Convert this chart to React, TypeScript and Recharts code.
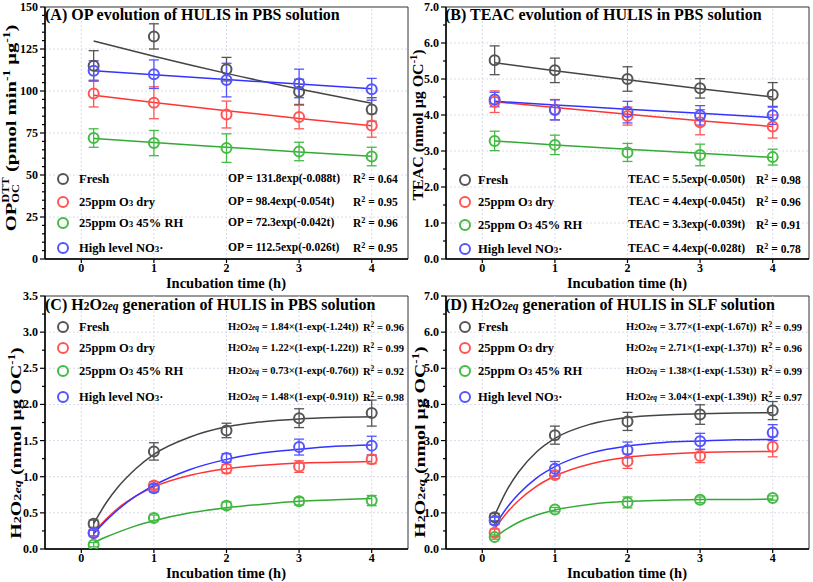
import React from 'react';
import { ComposedChart, Scatter, Line, XAxis, YAxis, ErrorBar, ReferenceLine, ReferenceArea } from 'recharts';

const FONT = '"Liberation Serif", "Times New Roman", serif';

// sampling times (h) and x ticks
const times = [0.17, 1, 2, 3, 4];
const curveTimes = [0.17, 0.35, 0.5, 0.75, 1, 1.5, 2, 2.5, 3, 3.5, 4];
const xTicks = [0, 1, 2, 3, 4];

const seriesNames = ['Fresh', '25ppm O3 dry', '25ppm O3 45% RH', 'High level NO3·'];
const markerColors = ['#555555', '#ff5555', '#44bb44', '#5555ff'];
const lineColors = ['#444444', '#ff3333', '#33aa33', '#3333ff'];

// (A) OP
const opMajor = [0, 25, 50, 75, 100, 125, 150];
const opMinor = [5, 10, 15, 20, 30, 35, 40, 45, 55, 60, 65, 70, 80, 85, 90, 95, 105, 110, 115, 120, 130, 135, 140, 145];
const opFresh = [115, 132.5, 113, 99.5, 89];
const opFreshErr = [9, 7.5, 7, 7.5, 7];
const opDry = [98.5, 93, 86, 84.5, 79.5];
const opDryErr = [8, 9.5, 8, 7, 7];
const opRh = [72, 69, 66, 64, 61];
const opRhErr = [5.5, 7.5, 8.5, 5.5, 5.5];
const opNo3 = [112, 110, 106.5, 104.5, 101];
const opNo3Err = [6, 8.5, 10, 8.5, 6.5];
const opFreshFit = [129.8, 120.7, 110.5, 101.2, 92.7];
const opDryFit = [97.5, 93.2, 88.3, 83.7, 79.3];
const opRhFit = [71.8, 69.3, 66.5, 63.7, 61.1];
const opNo3Fit = [112.0, 109.6, 106.8, 104.1, 101.4];
const opEq = ['131.8exp(-0.088t)', '98.4exp(-0.054t)', '72.3exp(-0.042t)', '112.5exp(-0.026t)'];
const opR2 = ['0.64', '0.95', '0.96', '0.95'];

// (B) TEAC
const teacMajor = [0, 1, 2, 3, 4, 5, 6, 7];
const teacMinor = [0.5, 1.5, 2.5, 3.5, 4.5, 5.5, 6.5];
const teacFresh = [5.52, 5.24, 5.0, 4.74, 4.56];
const teacFreshErr = [0.4, 0.34, 0.34, 0.27, 0.34];
const teacDry = [4.37, 4.15, 3.97, 3.8, 3.68];
const teacDryErr = [0.3, 0.28, 0.25, 0.35, 0.32];
const teacRh = [3.28, 3.17, 2.96, 2.89, 2.83];
const teacRhErr = [0.27, 0.27, 0.25, 0.3, 0.22];
const teacNo3 = [4.43, 4.14, 4.08, 3.99, 3.99];
const teacNo3Err = [0.2, 0.28, 0.3, 0.27, 0.25];
const teacFreshFit = [5.45, 5.23, 4.98, 4.73, 4.5];
const teacDryFit = [4.37, 4.21, 4.02, 3.84, 3.68];
const teacRhFit = [3.28, 3.17, 3.05, 2.94, 2.82];
const teacNo3Fit = [4.38, 4.28, 4.16, 4.05, 3.93];
const teacEq = ['5.5exp(-0.050t)', '4.4exp(-0.045t)', '3.3exp(-0.039t)', '4.4exp(-0.028t)'];
const teacR2 = ['0.98', '0.96', '0.91', '0.78'];

// (C) H2O2eq in PBS
const pbsMajor = [0, 0.5, 1, 1.5, 2, 2.5, 3, 3.5];
const pbsMinor = [0.25, 0.75, 1.25, 1.75, 2.25, 2.75, 3.25];
const pbsFresh = [0.35, 1.35, 1.64, 1.81, 1.88];
const pbsFreshErr = [0.05, 0.12, 0.1, 0.13, 0.18];
const pbsDry = [0.22, 0.88, 1.11, 1.14, 1.24];
const pbsDryErr = [0.04, 0.05, 0.06, 0.08, 0.06];
const pbsRh = [0.06, 0.43, 0.6, 0.66, 0.67];
const pbsRhErr = [0.03, 0.04, 0.05, 0.05, 0.07];
const pbsNo3 = [0.22, 0.84, 1.26, 1.41, 1.43];
const pbsNo3Err = [0.04, 0.05, 0.06, 0.11, 0.13];
const pbsFreshFit = [0.35, 0.65, 0.85, 1.11, 1.31, 1.55, 1.69, 1.76, 1.8, 1.82, 1.83];
const pbsDryFit = [0.23, 0.42, 0.56, 0.73, 0.86, 1.02, 1.11, 1.16, 1.19, 1.2, 1.21];
const pbsRhFit = [0.09, 0.17, 0.23, 0.32, 0.39, 0.5, 0.57, 0.62, 0.66, 0.68, 0.7];
const pbsNo3Fit = [0.21, 0.4, 0.54, 0.73, 0.88, 1.1, 1.24, 1.33, 1.38, 1.42, 1.44];
const pbsEq = ['1.84×(1-exp(-1.24t))', '1.22×(1-exp(-1.22t))', '0.73×(1-exp(-0.76t))', '1.48×(1-exp(-0.91t))'];
const pbsR2 = ['0.96', '0.99', '0.92', '0.98'];

// (D) H2O2eq in SLF
const slfMajor = [0, 1, 2, 3, 4, 5, 6, 7];
const slfMinor = [0.5, 1.5, 2.5, 3.5, 4.5, 5.5, 6.5];
const slfFresh = [0.88, 3.15, 3.53, 3.72, 3.83];
const slfFreshErr = [0.1, 0.25, 0.25, 0.27, 0.25];
const slfDry = [0.45, 2.05, 2.43, 2.57, 2.83];
const slfDryErr = [0.1, 0.1, 0.2, 0.18, 0.28];
const slfRh = [0.33, 1.09, 1.29, 1.36, 1.41];
const slfRhErr = [0.06, 0.06, 0.15, 0.08, 0.06];
const slfNo3 = [0.78, 2.22, 2.74, 2.98, 3.22];
const slfNo3Err = [0.1, 0.2, 0.22, 0.22, 0.22];
const slfFreshFit = [0.93, 1.67, 2.13, 2.69, 3.06, 3.46, 3.64, 3.71, 3.74, 3.76, 3.77];
const slfDryFit = [0.56, 1.03, 1.34, 1.74, 2.02, 2.36, 2.54, 2.62, 2.67, 2.69, 2.7];
const slfRhFit = [0.32, 0.57, 0.74, 0.94, 1.08, 1.24, 1.32, 1.35, 1.37, 1.37, 1.38];
const slfNo3Fit = [0.64, 1.17, 1.52, 1.97, 2.28, 2.66, 2.85, 2.95, 2.99, 3.02, 3.03];
const slfEq = ['3.77×(1-exp(-1.67t))', '2.71×(1-exp(-1.37t))', '1.38×(1-exp(-1.53t))', '3.04×(1-exp(-1.39t))'];
const slfR2 = ['0.99', '0.96', '0.99', '0.97'];

const small = { fontSize: '0.72em' };

const H2O2 = () => (
  <>
    H<span style={small}>2</span>O<span style={small}>2<i>eq</i></span>
  </>
);

function SeriesName({ name }: { name: string }) {
  const parts = name.split(/(O3)/);
  return (
    <>
      {parts.map((p, i) => (p === 'O3' ? <span key={i}>O<span style={small}>3</span></span> : <span key={i}>{p}</span>))}
    </>
  );
}

function YTick(props: any) {
  const { x, y, payload, major, digits } = props;
  const isMajor = major.includes(payload.value);
  return (
    <g>
      <line x1={x} x2={x - (isMajor ? 5 : 3)} y1={y} y2={y} stroke="#000" strokeWidth={1.2} />
      {isMajor && (
        <text x={x - 7} y={y} dy={4} textAnchor="end" fontSize={12} fontWeight="bold" fontFamily={FONT} fill="#000">
          {payload.value.toFixed(digits)}
        </text>
      )}
    </g>
  );
}

type Series = { values: number[]; errors: number[]; fit: number[] };

interface PanelProps {
  left: number;
  top: number;
  marginTop: number;
  title: React.ReactNode;
  titleX: number;
  yLabel: React.ReactNode;
  yLabelPos: [number, number];
  yLabelStretch: number;
  domain: [number, number];
  major: number[];
  minor: number[];
  digits: number;
  fitTimes: number[];
  series: Series[];
  eqPrefix: React.ReactNode;
  eqs: string[];
  r2: string[];
  rows: number[];
  cols: [number, number, number, number];
  eqFont: number;
}

function Panel(p: PanelProps) {
  const ticks = [...p.major, ...p.minor].sort((a, b) => a - b);
  const text = { position: 'absolute' as const, transform: 'translateY(-50%)', lineHeight: 1, fontWeight: 'bold' as const, whiteSpace: 'nowrap' as const, color: '#000' };
  return (
    <div style={{ position: 'absolute', left: p.left, top: p.top, width: 410, height: 290 }}>
      <ComposedChart width={410} height={290} margin={{ top: p.marginTop, right: 2, bottom: 0, left: 0 }}>
        {p.major.slice(1, -1).map((v) => (
          <ReferenceLine key={'h' + v} y={v} stroke="#dadaea" strokeDasharray="2 2" />
        ))}
        {xTicks.map((v) => (
          <ReferenceLine key={'v' + v} x={v} stroke="#dadaea" strokeDasharray="2 2" />
        ))}
        <XAxis
          type="number"
          dataKey="x"
          domain={[-0.5, 4.5]}
          ticks={xTicks}
          allowDataOverflow
          height={31}
          tickSize={4}
          tickMargin={0}
          tickLine={{ stroke: '#000', strokeWidth: 1.2 }}
          axisLine={{ stroke: '#000', strokeWidth: 1.5 }}
          tick={{ fontSize: 12, fontWeight: 'bold', fill: '#000', fontFamily: FONT }}
        />
        <YAxis
          type="number"
          dataKey="y"
          domain={p.domain}
          ticks={ticks}
          interval={0}
          allowDataOverflow
          width={45}
          tickSize={0}
          tickMargin={0}
          tickLine={false}
          axisLine={{ stroke: '#000', strokeWidth: 1.5 }}
          tick={(tp: any) => <YTick {...tp} major={p.major} digits={p.digits} />}
        />
        <ReferenceArea x1={-0.5} x2={4.5} y1={p.domain[0]} y2={p.domain[1]} fill="none" stroke="#333" strokeWidth={1} />
        {p.series.map((s, i) => (
          <Line
            key={'fit' + i}
            data={p.fitTimes.map((t, j) => ({ x: t, y: s.fit[j] }))}
            dataKey="y"
            type="monotone"
            dot={false}
            stroke={lineColors[i]}
            strokeWidth={1.5}
            isAnimationActive={false}
          />
        ))}
        {p.series.map((s, i) => (
          <Scatter
            key={'pts' + i}
            data={times.map((t, j) => ({ x: t, y: s.values[j], e: s.errors[j] }))}
            dataKey="y"
            isAnimationActive={false}
            shape={(sp: any) => <circle cx={sp.cx} cy={sp.cy} r={5} fill="none" stroke={markerColors[i]} strokeWidth={2} />}
          >
            <ErrorBar dataKey="e" direction="y" width={5} stroke={markerColors[i]} strokeWidth={1.3} />
          </Scatter>
        ))}
      </ComposedChart>

      <div style={{ ...text, left: p.titleX, top: 15, fontSize: 16 }}>{p.title}</div>
      <div
        style={{
          position: 'absolute',
          left: p.yLabelPos[0],
          top: p.yLabelPos[1],
          transform: `translate(-50%, -50%) rotate(-90deg) scaleX(${p.yLabelStretch})`,
          whiteSpace: 'nowrap',
          fontWeight: 'bold',
          fontSize: 15.5,
          lineHeight: 1,
        }}
      >
        {p.yLabel}
      </div>
      <div style={{ ...text, left: 226, top: 283, fontSize: 14.5, transform: 'translate(-50%, -50%)' }}>Incubation time (h)</div>

      {seriesNames.map((name, i) => (
        <React.Fragment key={name}>
          <span
            style={{
              position: 'absolute',
              left: p.cols[0] - 6,
              top: p.rows[i] - 6,
              width: 12,
              height: 12,
              border: `2.5px solid ${markerColors[i]}`,
              borderRadius: '50%',
              boxSizing: 'border-box',
            }}
          />
          <div style={{ ...text, left: p.cols[1], top: p.rows[i], fontSize: 12.5 }}>
            <SeriesName name={name} />
          </div>
          <div style={{ ...text, left: p.cols[2], top: p.rows[i], fontSize: p.eqFont }}>
            {p.eqPrefix} = {p.eqs[i]}
          </div>
          <div style={{ ...text, left: p.cols[3], top: p.rows[i], fontSize: p.eqFont }}>
            R<sup style={{ fontSize: '0.7em', verticalAlign: '0.5em' }}>2</sup> = {p.r2[i]}
          </div>
        </React.Fragment>
      ))}
    </div>
  );
}

const sup = { fontSize: '0.65em', verticalAlign: '0.55em' };

export default function App() {
  return (
    <div style={{ position: 'absolute', left: 0, top: 0, width: 813, height: 582, background: '#fff', fontFamily: FONT }}>
      <Panel
        left={0}
        top={0}
        marginTop={7}
        title="(A) OP evolution of HULIS in PBS solution"
        titleX={45}
        yLabel={
          <>
            OP
            <span style={{ display: 'inline-flex', flexDirection: 'column', fontSize: '0.6em', lineHeight: 1.05, verticalAlign: 'middle' }}>
              <span>DTT</span>
              <span>OC</span>
            </span>{' '}
            (pmol min<span style={sup}>-1</span> μg<span style={sup}>-1</span>)
          </>
        }
        yLabelPos={[12, 128]}
        yLabelStretch={1.33}
        domain={[0, 150]}
        major={opMajor}
        minor={opMinor}
        digits={0}
        fitTimes={times}
        series={[
          { values: opFresh, errors: opFreshErr, fit: opFreshFit },
          { values: opDry, errors: opDryErr, fit: opDryFit },
          { values: opRh, errors: opRhErr, fit: opRhFit },
          { values: opNo3, errors: opNo3Err, fit: opNo3Fit },
        ]}
        eqPrefix="OP"
        eqs={opEq}
        r2={opR2}
        rows={[179, 202, 223, 248]}
        cols={[63, 79, 228, 353]}
        eqFont={11.5}
      />
      <Panel
        left={401}
        top={0}
        marginTop={7}
        title="(B) TEAC evolution of HULIS in PBS solution"
        titleX={44}
        yLabel={
          <>
            TEAC (nmol μg OC<span style={sup}>-1</span>)
          </>
        }
        yLabelPos={[16, 125]}
        yLabelStretch={1.03}
        domain={[0, 7]}
        major={teacMajor}
        minor={teacMinor}
        digits={1}
        fitTimes={times}
        series={[
          { values: teacFresh, errors: teacFreshErr, fit: teacFreshFit },
          { values: teacDry, errors: teacDryErr, fit: teacDryFit },
          { values: teacRh, errors: teacRhErr, fit: teacRhFit },
          { values: teacNo3, errors: teacNo3Err, fit: teacNo3Fit },
        ]}
        eqPrefix="TEAC"
        eqs={teacEq}
        r2={teacR2}
        rows={[180, 202, 225, 249]}
        cols={[64, 77, 227, 355]}
        eqFont={11.5}
      />
      <Panel
        left={0}
        top={290}
        marginTop={6}
        title={
          <>
            (C) <H2O2 /> generation of HULIS in PBS solution
          </>
        }
        titleX={45}
        yLabel={
          <>
            <H2O2 /> (nmol μg OC<span style={sup}>-1</span>)
          </>
        }
        yLabelPos={[15, 153]}
        yLabelStretch={1.28}
        domain={[0, 3.5]}
        major={pbsMajor}
        minor={pbsMinor}
        digits={1}
        fitTimes={curveTimes}
        series={[
          { values: pbsFresh, errors: pbsFreshErr, fit: pbsFreshFit },
          { values: pbsDry, errors: pbsDryErr, fit: pbsDryFit },
          { values: pbsRh, errors: pbsRhErr, fit: pbsRhFit },
          { values: pbsNo3, errors: pbsNo3Err, fit: pbsNo3Fit },
        ]}
        eqPrefix={<H2O2 />}
        eqs={pbsEq}
        r2={pbsR2}
        rows={[37, 58, 81, 107]}
        cols={[63, 79, 228, 363]}
        eqFont={10.5}
      />
      <Panel
        left={401}
        top={290}
        marginTop={6}
        title={
          <>
            (D) <H2O2 /> generation of HULIS in SLF solution
          </>
        }
        titleX={44}
        yLabel={
          <>
            <H2O2 /> (nmol μg OC<span style={sup}>-1</span>)
          </>
        }
        yLabelPos={[18, 152]}
        yLabelStretch={1.28}
        domain={[0, 7]}
        major={slfMajor}
        minor={slfMinor}
        digits={1}
        fitTimes={curveTimes}
        series={[
          { values: slfFresh, errors: slfFreshErr, fit: slfFreshFit },
          { values: slfDry, errors: slfDryErr, fit: slfDryFit },
          { values: slfRh, errors: slfRhErr, fit: slfRhFit },
          { values: slfNo3, errors: slfNo3Err, fit: slfNo3Fit },
        ]}
        eqPrefix={<H2O2 />}
        eqs={slfEq}
        r2={slfR2}
        rows={[37, 58, 81, 107]}
        cols={[64, 77, 225, 360]}
        eqFont={10.5}
      />
    </div>
  );
}
